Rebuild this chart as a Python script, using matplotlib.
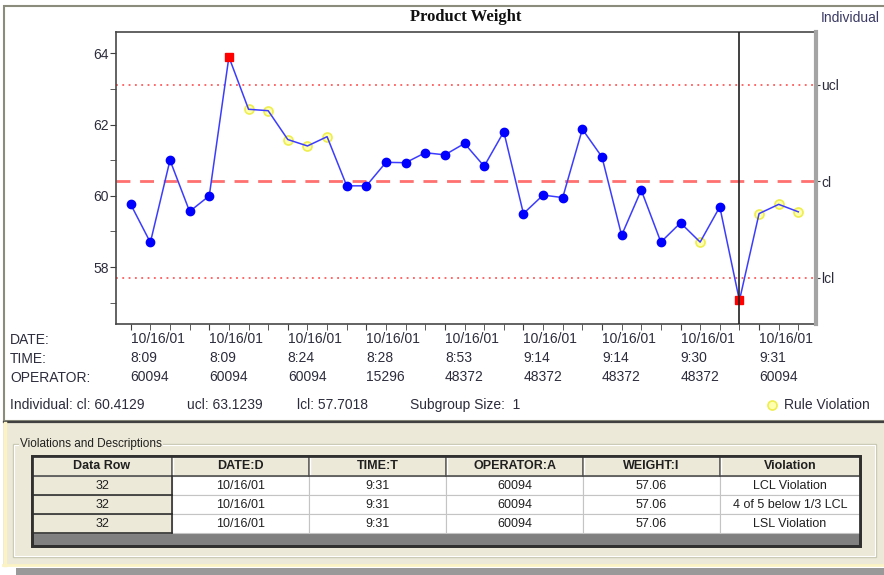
import matplotlib
matplotlib.use('Agg')
import matplotlib.pyplot as plt
from matplotlib.patches import Rectangle

# Individual chart data
weights = [59.76, 58.69, 61.00, 59.56, 60.00, 63.90, 62.43, 62.39, 61.58, 61.40,
           61.66, 60.28, 60.28, 60.94, 60.93, 61.21, 61.15, 61.47, 60.83, 61.80,
           59.50, 60.02, 59.95, 61.87, 61.09, 58.89, 60.16, 58.70, 59.24, 58.70,
           59.69, 57.06, 59.50, 59.76, 59.55]
# n = in control, r = rule violation, x = limit violation
status = ['n', 'n', 'n', 'n', 'n', 'x', 'r', 'r', 'r', 'r',
          'r', 'n', 'n', 'n', 'n', 'n', 'n', 'n', 'n', 'n',
          'n', 'n', 'n', 'n', 'n', 'n', 'n', 'n', 'n', 'r',
          'n', 'x', 'r', 'r', 'r']
cl = 60.4129
ucl = 63.1239
lcl = 57.7018
subgroup_size = 1
current_row = 32

tick_rows = [1, 5, 9, 13, 17, 21, 25, 29, 33]
tick_dates = ['10/16/01'] * 9
tick_times = ['8:09', '8:09', '8:24', '8:28', '8:53', '9:14', '9:14', '9:30', '9:31']
tick_ops = ['60094', '60094', '60094', '15296', '48372', '48372', '48372', '48372', '60094']

# violations table
tbl_header = ['Data Row', 'DATE:D', 'TIME:T', 'OPERATOR:A', 'WEIGHT:I', 'Violation']
tbl_rows = [['32', '10/16/01', '9:31', '60094', '57.06', 'LCL Violation'],
            ['32', '10/16/01', '9:31', '60094', '57.06', '4 of 5 below 1/3 LCL'],
            ['32', '10/16/01', '9:31', '60094', '57.06', 'LSL Violation']]

W, H = 884, 575
SANS = ['Liberation Sans', 'DejaVu Sans']
TXT = '#2c2c3c'
plt.rcParams['font.family'] = SANS

fig = plt.figure(figsize=(W / 100, H / 100), dpi=100)
bg = fig.add_axes([0, 0, 1, 1])
bg.set_xlim(0, W)
bg.set_ylim(H, 0)
bg.axis('off')


def px_axes(x0, y0, x1, y1):
    return fig.add_axes([x0 / W, 1 - y1 / H, (x1 - x0) / W, (y1 - y0) / H])


# --- panels
bg.add_patch(Rectangle((4, 6), 884, 415, fc='white', ec='#8c8c7c', lw=1.5))
bg.plot([4, 884], [421.5, 421.5], color='#404040', lw=1.6)
bg.add_patch(Rectangle((3, 423), 884, 142, fc='#ece9d8', ec='none'))
bg.plot([4.5, 4.5], [423, 565], color='#fbf3c4', lw=2.5)
bg.plot([3, 884], [564.5, 564.5], color='#fbf3c4', lw=2)
bg.add_patch(Rectangle((16, 568), 870, 8, fc='#999999', ec='none'))

# --- chart
bg.text(466, 17, 'Product Weight', family=['Liberation Serif', 'DejaVu Serif'],
        weight='bold', size=12, ha='center', va='center', color='#101010')
bg.text(880, 18, 'Individual', ha='right', va='center', size=10, color='#3a3a64')

ax = px_axes(116, 32, 816, 324)
xs = list(range(1, len(weights) + 1))
ax.plot(xs, weights, color='#3c3cff', lw=1.1, zorder=3)
xn = [x for x, s in zip(xs, status) if s == 'n']
yn = [w for w, s in zip(weights, status) if s == 'n']
xr = [x for x, s in zip(xs, status) if s == 'r']
yr = [w for w, s in zip(weights, status) if s == 'r']
xx = [x for x, s in zip(xs, status) if s == 'x']
yx = [w for w, s in zip(weights, status) if s == 'x']
ax.plot(xr, yr, 'o', ms=6.5, mfc='#ffffb0', mec='#eeee50', mew=1.2, zorder=2.5)
ax.plot(xn, yn, 'o', ms=6, color='#0000ff', zorder=4)
ax.plot(xx, yx, 's', ms=5.5, color='#ff0000', zorder=4)

ax.axhline(ucl, color='#ff5a5a', lw=1.3, ls=(0, (1, 2.5)), zorder=1)
ax.axhline(lcl, color='#ff5a5a', lw=1.3, ls=(0, (1, 2.5)), zorder=1)
ax.axhline(cl, color='#ff7070', lw=2, ls=(0, (5, 3.5)), zorder=1)
ax.axvline(current_row, color='#202020', lw=1.2, zorder=5)

ax.set_xlim(0.25, 35.9)
ax.set_ylim(56.4, 64.6)
ax.set_yticks([58, 60, 62, 64])
ax.set_yticks([57, 59, 61, 63], minor=True)
ax.set_xticks(tick_rows)
ax.set_xticks(xs, minor=True)
labels = [f'{d}\n{t}\n{o}' for d, t, o in zip(tick_dates, tick_times, tick_ops)]
ax.set_xticklabels(labels, ha='left', linespacing=1.45)
ax.tick_params(axis='both', which='both', length=4, color='#404040',
               labelsize=10, labelcolor=TXT)
ax.tick_params(axis='y', pad=1)
ax.tick_params(axis='x', pad=2)
for side in ['left', 'top', 'bottom']:
    ax.spines[side].set_color('#484848')
    ax.spines[side].set_linewidth(1.2)
ax.spines['right'].set_visible(False)

ax2 = ax.twinx()
ax2.set_ylim(ax.get_ylim())
ax2.set_yticks([ucl, cl, lcl], ['ucl', 'cl', 'lcl'])
ax2.tick_params(length=3, pad=1, labelsize=10, labelcolor=TXT, color='#404040')
for side in ['left', 'top', 'bottom']:
    ax2.spines[side].set_visible(False)
ax2.spines['right'].set_color('#a4a4a4')
ax2.spines['right'].set_linewidth(3)

bg.text(10, 333, 'DATE:\nTIME:\nOPERATOR:', va='top', size=10, color=TXT, linespacing=1.45)
bg.text(10, 405, f'Individual: cl: {cl}', va='center', size=10, color=TXT)
bg.text(187, 405, f'ucl: {ucl}', va='center', size=10, color=TXT)
bg.text(297, 405, f'lcl: {lcl}', va='center', size=10, color=TXT)
bg.text(410, 405, f'Subgroup Size:  {subgroup_size}', va='center', size=10, color=TXT)
bg.plot([772], [405], 'o', ms=6.5, mfc='#ffffb0', mec='#eeee50', mew=1.2)
bg.text(784, 405, 'Rule Violation', va='center', size=10, color=TXT)

# --- violations group box
bg.add_patch(Rectangle((13, 443.5), 863, 113, fc='none', ec='#c8c8b4', lw=1))
bg.add_patch(Rectangle((14, 444.5), 861, 111, fc='none', ec='white', lw=0.8))
bg.text(20, 443.5, 'Violations and Descriptions', va='center', size=8.5,
        color='#202020', bbox=dict(fc='#ece9d8', ec='none', pad=1))

col_edges = [32, 172, 309, 446, 583, 720, 860]
row_edges = [456, 476, 495, 514, 533]
tb_bottom = 546
bg.add_patch(Rectangle((col_edges[0], row_edges[0]), col_edges[-1] - col_edges[0],
                       tb_bottom - row_edges[0], fc='#808080', ec='#303030', lw=2, zorder=1))
for j, name in enumerate(tbl_header):
    x0, x1 = col_edges[j], col_edges[j + 1]
    y0, y1 = row_edges[0], row_edges[1]
    bg.add_patch(Rectangle((x0, y0), x1 - x0, y1 - y0, fc='#ece9d8', ec='none', zorder=2))
    bg.plot([x0 + 1, x1 - 1], [y0 + 1, y0 + 1], color='white', lw=1, zorder=3)
    bg.plot([x0 + 1, x0 + 1], [y0 + 1, y1 - 1], color='white', lw=1, zorder=3)
    bg.plot([x0, x1], [y1 - 0.5, y1 - 0.5], color='#505050', lw=1.2, zorder=3)
    bg.plot([x1 - 0.5, x1 - 0.5], [y0, y1], color='#505050', lw=1.2, zorder=3)
    bg.text((x0 + x1) / 2, (y0 + y1) / 2, name, ha='center', va='center', size=9,
            weight='bold', color='#202020', zorder=4)
for i, row in enumerate(tbl_rows):
    y0, y1 = row_edges[i + 1], row_edges[i + 2]
    for j, val in enumerate(row):
        x0, x1 = col_edges[j], col_edges[j + 1]
        fc = '#ece9d8' if j == 0 else 'white'
        bg.add_patch(Rectangle((x0, y0), x1 - x0, y1 - y0, fc=fc, ec='#c4c4c4', lw=0.8, zorder=2))
        bg.text((x0 + x1) / 2, (y0 + y1) / 2 + 0.5, val, ha='center', va='center', size=9,
                color='#202020', zorder=4)
    bg.plot([col_edges[0], col_edges[1]], [y1, y1], color='#303030', lw=1.2, zorder=3)
    bg.plot([col_edges[1], col_edges[1]], [y0, y1], color='#303030', lw=1.2, zorder=3)
bg.add_patch(Rectangle((col_edges[0], row_edges[0]), col_edges[-1] - col_edges[0],
                       tb_bottom - row_edges[0], fc='none', ec='#303030', lw=2, zorder=5))

fig.savefig('out.png', dpi=100)
